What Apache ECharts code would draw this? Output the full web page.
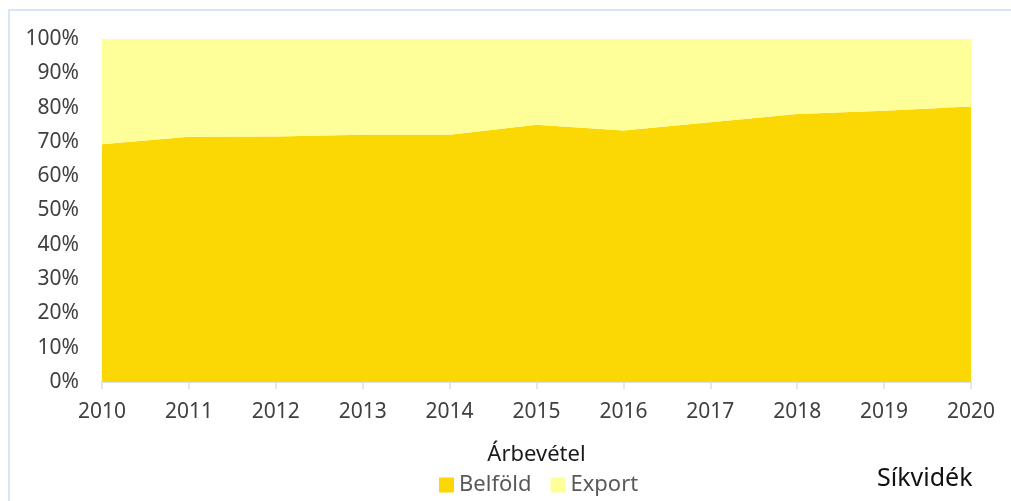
<!DOCTYPE html>
<html>
<head>
<meta charset="utf-8">
<title>Árbevétel</title>
<script src="https://cdn.jsdelivr.net/npm/echarts@6/dist/echarts.min.js"></script>
<style>
    html, body { margin: 0; padding: 0; background: #fff; }
    #chart { width: 1011px; height: 501px; }
</style>
</head>
<body>
<div id="chart"></div>
<script>
// évek
const years = ['2010', '2011', '2012', '2013', '2014', '2015', '2016', '2017', '2018', '2019', '2020']
// belföldi árbevétel aránya (%)
const belfold = [69.3, 71.5, 71.6, 72.1, 72.1, 75.0, 73.3, 75.7, 78.1, 79.1, 80.3]
// export aránya (%)
const exportShare = [30.7, 28.5, 28.4, 27.9, 27.9, 25.0, 26.7, 24.3, 21.9, 20.9, 19.7]
const yTicks = ['0%', '10%', '20%', '30%', '40%', '50%', '60%', '70%', '80%', '90%', '100%']

const font = '"Noto Sans", "DejaVu Sans", sans-serif'
const axisGrey = '#D5DFEE'

const chart = echarts.init(document.getElementById('chart'))

const option = {
    animation: false,
    textStyle: { fontFamily: font },
    grid: { left: 102, right: 40, top: 39, bottom: 119 },
    legend: {
        bottom: 0,
        left: 434,
        icon: 'rect',
        itemWidth: 15,
        itemHeight: 15,
        itemGap: 19,
        textStyle: { fontSize: 22, color: '#595959', fontFamily: font },
        data: ['Belföld', 'Export']
    },
    xAxis: {
        type: 'category',
        data: years,
        boundaryGap: false,
        name: 'Árbevétel',
        nameLocation: 'middle',
        nameGap: 62,
        nameTextStyle: { fontSize: 22, color: '#1a1a1a', fontFamily: font },
        axisLine: { lineStyle: { color: axisGrey, width: 1.5 } },
        axisTick: { length: 7, lineStyle: { color: axisGrey, width: 1.5 } },
        axisLabel: { fontSize: 21, color: '#404040', margin: 20 }
    },
    yAxis: {
        type: 'value',
        min: 0,
        max: 100,
        interval: 10,
        axisLine: { show: false },
        axisTick: { show: false },
        splitLine: { lineStyle: { color: '#E6E6E6' } },
        axisLabel: {
            fontSize: 21,
            color: '#404040',
            margin: 23,
            formatter: (v) => yTicks[Math.round(v / 10)]
        }
    },
    series: [{
        name: 'Belföld',
        type: 'line',
        stack: 'total',
        data: belfold,
        symbol: 'none',
        lineStyle: { width: 0 },
        areaStyle: { color: '#FBD704', opacity: 1 },
        itemStyle: { color: '#FBD704' }
    }, {
        name: 'Export',
        type: 'line',
        stack: 'total',
        data: exportShare,
        symbol: 'none',
        lineStyle: { width: 0 },
        areaStyle: { color: '#FFFF99', opacity: 1 },
        itemStyle: { color: '#FFFF99' }
    }],
    graphic: [{
        type: 'rect',
        silent: true,
        shape: { x: 9, y: 10, width: 1020, height: 510 },
        style: { fill: 'none', stroke: '#D9E4F4', lineWidth: 2 }
    }, {
        type: 'text',
        left: 877,
        top: 466,
        style: { text: 'Síkvidék', fontSize: 25, fill: '#111', fontFamily: font }
    }]
}

chart.setOption(option)
</script>
</body>
</html>
